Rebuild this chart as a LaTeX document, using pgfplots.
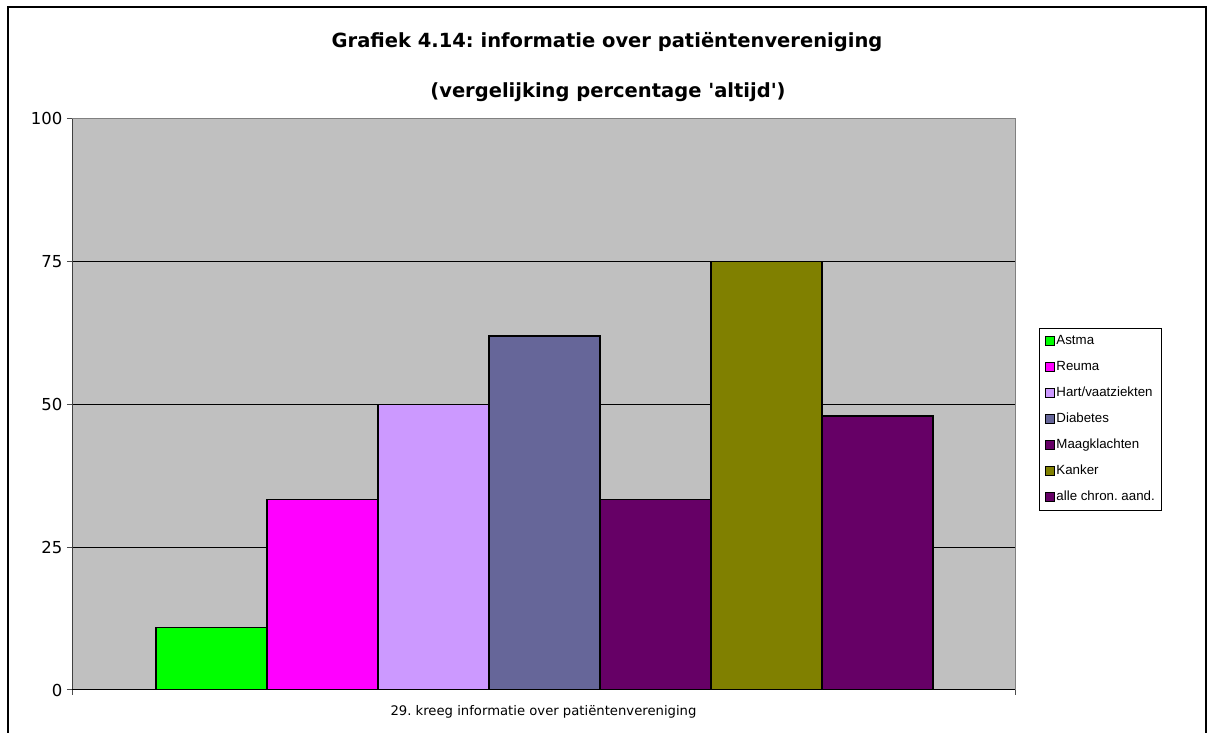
\documentclass[border=0pt]{standalone}
\usepackage{pgfplots}
\pgfplotsset{compat=1.18}
\usepackage{fontspec}
\setmainfont{DejaVu Sans}
\newfontfamily\titlefont{DejaVu Sans}
\newfontfamily\arialfont{Liberation Sans}
\definecolor{plotbg}{HTML}{C0C0C0}
\definecolor{cAstma}{HTML}{00FF00}
\definecolor{cReuma}{HTML}{FF00FF}
\definecolor{cHart}{HTML}{CC99FF}
\definecolor{cDiab}{HTML}{666699}
\definecolor{cMaag}{HTML}{660066}
\definecolor{cKanker}{HTML}{808000}
\definecolor{cAlle}{HTML}{660066}
\frenchspacing
\begin{document}
\begin{tikzpicture}[x=1pt,y=1pt]
\useasboundingbox (0,0) rectangle (1207,733);
\draw[black, line width=1.5pt] (8,-5) -- (8,726) -- (1206,726) -- (1206,-5);
\node[font=\titlefont\bfseries\fontsize{19.5}{19.5}\selectfont] at (607,691) {Grafiek 4.14: informatie over patiëntenvereniging};
\node[font=\titlefont\bfseries\fontsize{19.5}{19.5}\selectfont] at (608,641) {(vergelijking percentage 'altijd')};
\node[font=\titlefont\fontsize{13.2}{13.2}\selectfont] at (543.5,21) {29. kreeg informatie over patiëntenvereniging};
\begin{axis}[
  at={(72pt,43pt)}, anchor=south west, scale only axis,
  width=943pt, height=571pt,
  xmin=0, xmax=8.4955, ymin=0, ymax=100,
  axis background/.style={fill=plotbg},
  axis line style={draw=black!50, line width=1pt},
  ytick={0,25,50,75}, extra y ticks={100}, extra y tick style={grid=none},
  ymajorgrids, major grid style={black, line width=1pt},
  xtick={0,8.4955}, xticklabels={},
  xtick pos=bottom, ytick pos=left,
  tick align=outside, major tick length=5pt,
  tick style={black!70, line width=1pt},
  /pgf/number format/assume math mode=true,
  yticklabel style={font=\fontsize{16.5}{16.5}\selectfont, xshift=-1pt},
  legend image code/.code={\draw[#1, draw=black, line width=1pt] (0pt,-4.5pt) rectangle (9pt,4.5pt);},
  legend style={at={(1.0255,0.634)}, anchor=north west, draw=black, line width=0.8pt,
    font=\arialfont\fontsize{13.3}{13.3}\selectfont, inner sep=6pt, row sep=12pt,
    nodes={inner sep=1pt, text height=9pt, text depth=3pt}},
  legend cell align=left,
  every axis plot/.append style={ybar, bar width=1, draw=black, line width=1.2pt},
]
\addplot[fill=cAstma] coordinates {(1.257,11)};
\addlegendentry{Astma}
\addplot[fill=cReuma] coordinates {(2.257,33.3)};
\addlegendentry{Reuma}
\addplot[fill=cHart] coordinates {(3.257,50)};
\addlegendentry{Hart/vaatziekten}
\addplot[fill=cDiab] coordinates {(4.257,62)};
\addlegendentry{Diabetes}
\addplot[fill=cMaag] coordinates {(5.257,33.3)};
\addlegendentry{Maagklachten}
\addplot[fill=cKanker] coordinates {(6.257,75)};
\addlegendentry{Kanker}
\addplot[fill=cAlle] coordinates {(7.257,48)};
\addlegendentry{alle chron. aand.}
\draw[black!75, line width=1.2pt] (rel axis cs:0,0) -- (rel axis cs:0,1);
\draw[black, line width=1.2pt] (rel axis cs:0,0) -- (rel axis cs:1,0);
\end{axis}
\end{tikzpicture}
\end{document}
